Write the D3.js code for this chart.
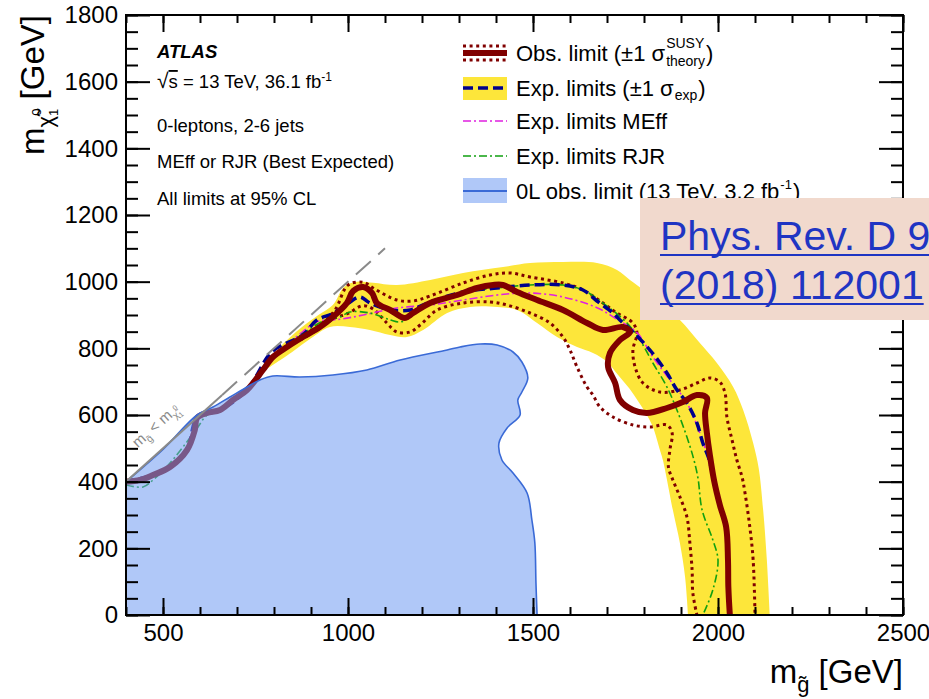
<!DOCTYPE html>
<html>
<head>
<meta charset="utf-8">
<script src="https://cdn.jsdelivr.net/npm/d3@7"></script>
<style>
  body { margin: 0; background: #fff; }
  svg { display: block; font-family: "Liberation Sans", Arial, Helvetica, sans-serif; }
</style>
</head>
<body>
<svg id="chart" width="929" height="699"></svg>
<script>
(function() {

    // ---- data (m_gluino, m_neutralino) in GeV ----
    var xTicks = [500, 1000, 1500, 2000, 2500];
    var yTicks = [0, 200, 400, 600, 800, 1000, 1200, 1400, 1600, 1800];

    var obsLimit = [[400,400],[438,405],[473,420],[519,444],[565,495],[586,555],[592,591],[619,606],[654,615],[689,645],[727,675],[770,735],[797,774],[835,804],[878,834],[924,864],[959,894],[997,936],[1014,972],[1041,984],[1065,966],[1078,936],[1114,915],[1154,891],[1176,906],[1222,936],[1295,960],[1349,981],[1392,990],[1419,990],[1457,969],[1511,945],[1581,915],[1646,876],[1689,855],[1743,864],[1762,849],[1735,825],[1708,786],[1703,744],[1722,696],[1735,645],[1770,615],[1808,606],[1862,621],[1905,639],[1943,660],[1970,651],[1965,606],[1970,546],[1978,480],[1990,400],[2005,330],[2022,264],[2027,165],[2028,84],[2032,0]];

    var obsUp = [[400,400],[473,420],[519,444],[565,495],[586,555],[592,591],[619,606],[654,615],[689,645],[727,675],[770,735],[797,774],[835,804],[878,838],[924,870],[965,915],[1000,990],[1041,998],[1072,978],[1132,945],[1176,942],[1222,957],[1311,996],[1384,1020],[1438,1026],[1492,1014],[1581,996],[1635,975],[1689,936],[1727,906],[1770,876],[1781,846],[1770,795],[1776,744],[1797,696],[1843,669],[1897,675],[1943,696],[1978,711],[2005,699],[2019,666],[2024,594],[2038,525],[2051,465],[2065,414],[2073,366],[2086,264],[2095,165],[2100,0]];

    var obsDown = [[400,400],[473,420],[519,444],[565,495],[586,555],[592,591],[619,606],[654,615],[689,645],[727,675],[770,735],[797,774],[835,804],[878,830],[924,860],[959,888],[1000,905],[1040,928],[1068,918],[1105,876],[1132,849],[1168,849],[1195,870],[1241,915],[1311,936],[1384,939],[1430,930],[1492,906],[1546,876],[1581,834],[1600,795],[1619,744],[1646,684],[1662,660],[1681,624],[1716,594],[1770,570],[1816,564],[1862,570],[1876,546],[1870,495],[1866,444],[1878,405],[1895,360],[1916,294],[1924,216],[1930,135],[1932,66],[1943,0]];

    var expLimit = [[400,400],[473,420],[519,444],[565,495],[592,591],[654,615],[727,675],[795,790],[878,840],[916,885],[960,905],[1000,935],[1032,954],[1059,936],[1114,915],[1168,915],[1222,939],[1311,969],[1403,981],[1492,990],[1581,990],[1635,975],[1673,942],[1716,906],[1735,885],[1770,849],[1816,795],[1862,726],[1889,675],[1916,636],[1943,576],[1959,516],[1975,470],[1990,400],[2005,330],[2022,264],[2027,165],[2028,84],[2032,0]];

    var expMEff = [[400,400],[473,420],[519,444],[565,495],[592,591],[654,615],[727,675],[797,774],[835,810],[878,850],[916,880],[978,887],[1041,900],[1132,921],[1222,930],[1311,945],[1403,960],[1492,966],[1581,954],[1673,922],[1727,887],[1781,847],[1824,774],[1870,705],[1916,636],[1951,546],[1968,490],[1990,400],[2005,330],[2022,264],[2027,165],[2028,84],[2032,0]];

    var expRJR = [[400,390],[446,384],[473,405],[519,456],[554,504],[592,560],[619,600],[654,615],[689,645],[727,675],[770,735],[797,774],[835,806],[878,845],[940,885],[978,894],[1005,909],[1059,906],[1114,885],[1141,879],[1168,894],[1222,936],[1311,969],[1403,981],[1492,990],[1581,990],[1635,975],[1690,935],[1754,876],[1789,825],[1824,756],[1862,684],[1889,615],[1916,534],[1935,465],[1946,410],[1957,315],[1986,225],[2000,165],[1986,75],[1959,0]];

    var bandOuter = [[760,730],[800,785],[860,850],[920,900],[959,930],[990,985],[1024,1000],[1068,997],[1132,990],[1222,1005],[1311,1026],[1419,1044],[1492,1056],[1581,1059],[1673,1056],[1727,1035],[1762,1005],[1805,970],[1850,930],[1897,885],[1951,816],[1997,756],[2041,684],[2068,615],[2095,516],[2110,440],[2122,315],[2132,165],[2140,0]];

    var bandInner = [[1919,0],[1911,114],[1897,216],[1878,315],[1851,465],[1843,495],[1824,564],[1805,605],[1785,640],[1760,680],[1730,720],[1700,760],[1662,786],[1619,804],[1565,834],[1511,876],[1457,915],[1403,924],[1330,924],[1268,906],[1203,855],[1159,834],[1114,840],[1059,855],[1005,864],[951,864],[900,830],[850,790],[790,745]];

    var zeroLepEdge = [[400,400],[500,497],[592,600],[635,624],[681,654],[727,684],[762,705],[797,717],[870,714],[959,720],[1051,735],[1141,765],[1268,795],[1303,804],[1357,813],[1403,810],[1446,789],[1470,759],[1486,711],[1470,669],[1459,645],[1465,600],[1430,561],[1408,516],[1416,465],[1446,426],[1484,366],[1497,285],[1505,216],[1508,96],[1511,0]];

    var diagonal = [[400,400],[660,660],[1100,1100]];

    // ---- layout ----
    var x = d3.scaleLinear().domain([400, 2500]).range([126, 903]);
    var y = d3.scaleLinear().domain([0, 1800]).range([615, 15]);

    var svg = d3.select('#chart');

    var line = d3.line()
        .x(function(d) { return x(d[0]); })
        .y(function(d) { return y(d[1]); })
        .curve(d3.curveCatmullRom.alpha(0.5));

    svg.append('defs').append('clipPath').attr('id', 'plot')
        .append('rect')
        .attr('x', x(400)).attr('y', y(1800))
        .attr('width', x(2500) - x(400)).attr('height', y(0) - y(1800));

    var plot = svg.append('g').attr('clip-path', 'url(#plot)');

    var yellow = '#fde63a',
        darkRed = '#800000',
        navy = '#00008c',
        magenta = '#e020e0',
        green = '#11a011',
        blueFill = 'rgb(114,157,243)',
        blueLine = '#3a6ad6';

    // expected +-1 sigma band
    plot.append('path')
        .attr('d', line(bandOuter) + line(bandInner).replace(/^M/, 'L') + 'Z')
        .attr('fill', yellow);

    function curve(data, color, width, dash) {
        return plot.append('path')
            .attr('d', line(data))
            .attr('fill', 'none')
            .attr('stroke', color)
            .attr('stroke-width', width)
            .attr('stroke-dasharray', dash || null);
    }

    curve(obsUp, darkRed, 3, '3,3.6');
    curve(obsDown, darkRed, 3, '3,3.6');
    curve(expMEff, magenta, 1.6, '8,3,2,3');
    curve(expRJR, green, 1.6, '8,3,2,3');
    curve(expLimit, navy, 3.5, '10,5');
    curve(obsLimit, darkRed, 6);

    // 0L 3.2 fb-1 region, drawn on top with transparency
    plot.append('path')
        .attr('d', line(zeroLepEdge) + 'L' + x(400) + ',' + y(0) + 'Z')
        .attr('fill', blueFill)
        .attr('fill-opacity', 0.56);
    curve(zeroLepEdge, blueLine, 1.6);

    // kinematic limit
    plot.append('line')
        .attr('x1', x(diagonal[0][0])).attr('y1', y(diagonal[0][1]))
        .attr('x2', x(diagonal[1][0])).attr('y2', y(diagonal[1][1]))
        .attr('stroke', '#8a8a8a').attr('stroke-width', 2);
    plot.append('line')
        .attr('x1', x(diagonal[1][0])).attr('y1', y(diagonal[1][1]))
        .attr('x2', x(diagonal[2][0])).attr('y2', y(diagonal[2][1]))
        .attr('stroke', '#8a8a8a').attr('stroke-width', 2)
        .attr('stroke-dasharray', '20,10');

    var dl = svg.append('text')
        .attr('transform', 'translate(' + x(432) + ',' + y(500) + ') rotate(-42)')
        .attr('font-size', 15).attr('fill', '#8a8a8a');
    dl.append('tspan').text('m');
    dl.append('tspan').attr('font-size', 10).attr('dy', 4).text('g\u0303');
    dl.append('tspan').attr('dy', -4).text(' < m');
    dl.append('tspan').attr('font-size', 10).attr('dy', 4).text('\u03c7\u0303');
    dl.append('tspan').attr('font-size', 7).attr('dy', 2).text('1');
    dl.append('tspan').attr('font-size', 7).attr('dx', -4).attr('dy', -9).text('0');

    // ---- axes ----
    function styleAxis(g) {
        g.select('.domain').remove();
        g.selectAll('.tick line').attr('stroke', '#000').attr('stroke-width', 2);
        g.selectAll('.tick text').attr('font-size', 24).attr('fill', '#000')
            .attr('font-family', '"Liberation Sans", Arial, sans-serif');
    }

    var xMinor = d3.range(400, 2501, 100);
    var yMinor = d3.range(0, 1801, 50);

    svg.append('g').attr('transform', 'translate(0,' + y(0) + ')')
        .call(d3.axisBottom(x).tickValues(xMinor).tickSizeInner(-8).tickSizeOuter(0).tickFormat(''))
        .call(styleAxis);
    svg.append('g').attr('transform', 'translate(0,' + y(0) + ')')
        .call(d3.axisBottom(x).tickValues(xTicks).tickSizeInner(-17).tickSizeOuter(0).tickPadding(9).tickFormat(d3.format('d')))
        .call(styleAxis);
    svg.append('g').attr('transform', 'translate(0,' + y(1800) + ')')
        .call(d3.axisTop(x).tickValues(xMinor).tickSizeInner(-8).tickSizeOuter(0).tickFormat(''))
        .call(styleAxis);
    svg.append('g').attr('transform', 'translate(0,' + y(1800) + ')')
        .call(d3.axisTop(x).tickValues(xTicks).tickSizeInner(-17).tickSizeOuter(0).tickFormat(''))
        .call(styleAxis);

    svg.append('g').attr('transform', 'translate(' + x(400) + ',0)')
        .call(d3.axisLeft(y).tickValues(yMinor).tickSizeInner(-12).tickSizeOuter(0).tickFormat(''))
        .call(styleAxis);
    svg.append('g').attr('transform', 'translate(' + x(400) + ',0)')
        .call(d3.axisLeft(y).tickValues(yTicks).tickSizeInner(-24).tickSizeOuter(0).tickPadding(8).tickFormat(d3.format('d')))
        .call(styleAxis);
    svg.append('g').attr('transform', 'translate(' + x(2500) + ',0)')
        .call(d3.axisRight(y).tickValues(yMinor).tickSizeInner(-12).tickSizeOuter(0).tickFormat(''))
        .call(styleAxis);
    svg.append('g').attr('transform', 'translate(' + x(2500) + ',0)')
        .call(d3.axisRight(y).tickValues(yTicks).tickSizeInner(-24).tickSizeOuter(0).tickFormat(''))
        .call(styleAxis);

    svg.append('rect')
        .attr('x', x(400)).attr('y', y(1800))
        .attr('width', x(2500) - x(400)).attr('height', y(0) - y(1800))
        .attr('fill', 'none').attr('stroke', '#000').attr('stroke-width', 2);

    // axis titles
    var xt = svg.append('text').attr('x', x(2500)).attr('y', 683)
        .attr('text-anchor', 'end').attr('font-size', 33);
    xt.append('tspan').text('m');
    xt.append('tspan').attr('font-size', 22).attr('dy', 9).text('g\u0303');
    xt.append('tspan').attr('dy', -9).text(' [GeV]');

    var yt = svg.append('text').attr('transform', 'translate(44,' + y(1800) + ') rotate(-90)')
        .attr('text-anchor', 'end').attr('font-size', 33);
    yt.append('tspan').text('m');
    yt.append('tspan').attr('font-size', 22).attr('dy', 9).text('\u03c7\u0303');
    yt.append('tspan').attr('font-size', 13).attr('dy', 5).text('1');
    yt.append('tspan').attr('font-size', 13).attr('dx', -7).attr('dy', -17).text('0');
    yt.append('tspan').attr('dy', 3).text(' [GeV]');

    // ---- ATLAS label ----
    svg.append('text').attr('x', 157).attr('y', 58)
        .attr('font-size', 18.5).attr('font-weight', 'bold').attr('font-style', 'italic')
        .text('ATLAS');
    var rs = svg.append('text').attr('x', 157).attr('y', 88).attr('font-size', 18.5);
    rs.append('tspan').attr('font-size', 21).text('\u221a');
    rs.append('tspan').attr('text-decoration', 'overline').text('s');
    rs.append('tspan').text(' = 13 TeV, 36.1 fb');
    rs.append('tspan').attr('font-size', 12).attr('dy', -7).text('-1');
    var info = ['0-leptons, 2-6 jets', 'MEff or RJR (Best Expected)', 'All limits at 95% CL'];
    var infoY = [132, 168, 205];
    info.forEach(function(v, i) {
        svg.append('text').attr('x', 157).attr('y', infoY[i]).attr('font-size', 18.5).text(v);
    });

    // ---- legend ----
    var lx0 = 463, lx1 = 507, tx = 516;
    var rowY = [53, 88, 121, 156, 191];

    var lg = svg.append('g');
    lg.append('line').attr('x1', lx0).attr('x2', lx1).attr('y1', rowY[0] - 7).attr('y2', rowY[0] - 7)
        .attr('stroke', darkRed).attr('stroke-width', 3).attr('stroke-dasharray', '3,3.6');
    lg.append('line').attr('x1', lx0).attr('x2', lx1).attr('y1', rowY[0] + 7).attr('y2', rowY[0] + 7)
        .attr('stroke', darkRed).attr('stroke-width', 3).attr('stroke-dasharray', '3,3.6');
    lg.append('line').attr('x1', lx0).attr('x2', lx1).attr('y1', rowY[0]).attr('y2', rowY[0])
        .attr('stroke', darkRed).attr('stroke-width', 6);

    lg.append('rect').attr('x', lx0).attr('y', rowY[1] - 11).attr('width', lx1 - lx0).attr('height', 23)
        .attr('fill', yellow);
    lg.append('line').attr('x1', lx0).attr('x2', lx1).attr('y1', rowY[1]).attr('y2', rowY[1])
        .attr('stroke', navy).attr('stroke-width', 3.5).attr('stroke-dasharray', '10,5');

    lg.append('line').attr('x1', lx0).attr('x2', lx1).attr('y1', rowY[2]).attr('y2', rowY[2])
        .attr('stroke', magenta).attr('stroke-width', 1.6).attr('stroke-dasharray', '8,3,2,3');
    lg.append('line').attr('x1', lx0).attr('x2', lx1).attr('y1', rowY[3]).attr('y2', rowY[3])
        .attr('stroke', green).attr('stroke-width', 1.6).attr('stroke-dasharray', '8,3,2,3');

    lg.append('rect').attr('x', lx0).attr('y', rowY[4] - 13).attr('width', lx1 - lx0).attr('height', 25)
        .attr('fill', blueFill).attr('fill-opacity', 0.56);
    lg.append('line').attr('x1', lx0).attr('x2', lx1).attr('y1', rowY[4]).attr('y2', rowY[4])
        .attr('stroke', blueLine).attr('stroke-width', 2);

    var fs = 22;
    function ltext(xp, yp, s, size) {
        return lg.append('text').attr('x', xp).attr('y', yp).attr('font-size', size || fs).text(s);
    }
    var t1 = ltext(tx, rowY[0] + 8, 'Obs. limit (\u00b11 \u03c3');
    var w1 = t1.node().getComputedTextLength();
    var sa = ltext(tx + w1 + 1, rowY[0] - 5, 'SUSY', 14);
    var sb = ltext(tx + w1 + 1, rowY[0] + 13, 'theory', 14);
    var ws = Math.max(sa.node().getComputedTextLength(), sb.node().getComputedTextLength());
    ltext(tx + w1 + ws + 2, rowY[0] + 8, ')');

    var t2 = ltext(tx, rowY[1] + 8, 'Exp. limits (\u00b11 \u03c3');
    var w2 = t2.node().getComputedTextLength();
    var se = ltext(tx + w2 + 1, rowY[1] + 12, 'exp', 14);
    ltext(tx + w2 + se.node().getComputedTextLength() + 2, rowY[1] + 8, ')');

    ltext(tx, rowY[2] + 8, 'Exp. limits MEff');
    ltext(tx, rowY[3] + 8, 'Exp. limits RJR');

    var t5 = ltext(tx, rowY[4] + 8, '0L obs. limit (13 TeV, 3.2 fb');
    var w5 = t5.node().getComputedTextLength();
    var s5 = ltext(tx + w5 + 1, rowY[4] - 2, '-1', 13);
    ltext(tx + w5 + s5.node().getComputedTextLength() + 2, rowY[4] + 8, ')');

    // ---- reference box ----
    svg.append('rect').attr('x', 640).attr('y', 198).attr('width', 300).attr('height', 122)
        .attr('fill', '#f1d9cd');
    var ref = ['Phys. Rev. D 97', '(2018) 112001'];
    var refY = [250, 299];
    ref.forEach(function(v, i) {
        var t = svg.append('text').attr('x', 660).attr('y', refY[i])
            .attr('font-size', 41).attr('fill', '#1f35c3').text(v);
        var w = t.node().getComputedTextLength();
        svg.append('line').attr('x1', 660).attr('x2', 660 + w)
            .attr('y1', refY[i] + 5).attr('y2', refY[i] + 5)
            .attr('stroke', '#1f35c3').attr('stroke-width', 2);
    });

})();
</script>
</body>
</html>
